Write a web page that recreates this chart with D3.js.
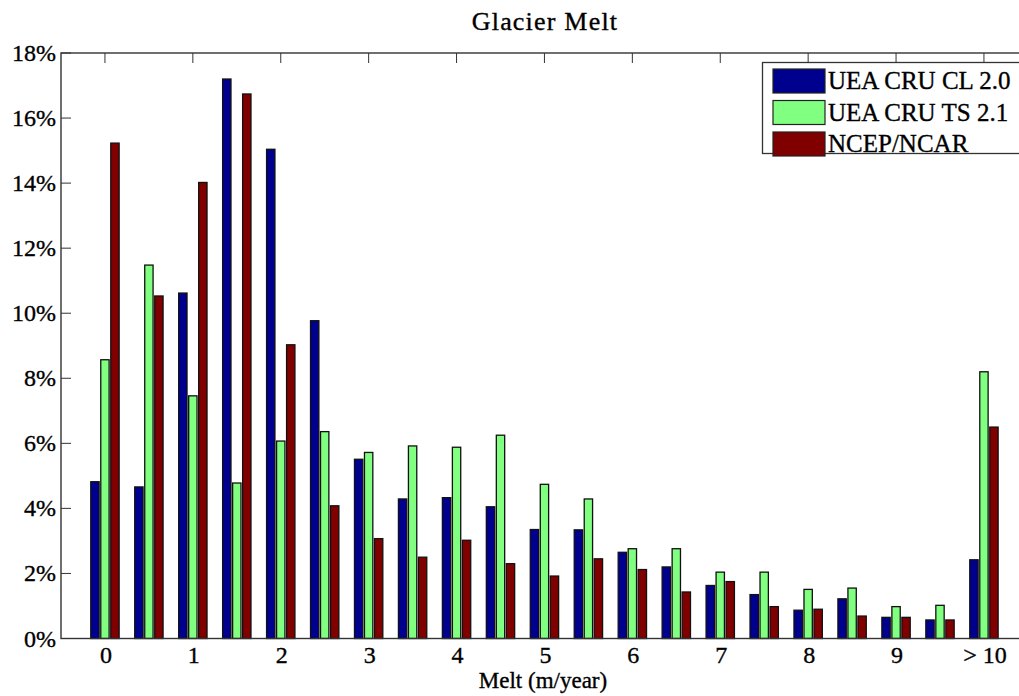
<!DOCTYPE html>
<html>
<head>
<meta charset="utf-8">
<script src="https://cdn.jsdelivr.net/npm/d3@7"></script>
<style>
  body { margin: 0; background: #fff; }
  text { font-family: "Liberation Serif", "Times New Roman", serif; fill: #000; stroke: #000; stroke-width: 0.35px; }
</style>
</head>
<body>
<svg></svg>
<script>
// SVG
var width = 1019;
var height = 696;

// Data (percent of glaciers per melt bin)
var bins = d3.range(21); // 0, 0.5, 1, ... 9.5, >10
var tickLabels = ["0", "1", "2", "3", "4", "5", "6", "7", "8", "9", "> 10"];
var seriesNames = ["UEA CRU CL 2.0", "UEA CRU TS 2.1", "NCEP/NCAR"];
var seriesColors = ["#00008f", "#80ff80", "#800000"];

var cruCL = [4.82, 4.66, 10.62, 17.2, 15.04, 9.77, 5.51, 4.29, 4.33, 4.05, 3.35,
             3.34, 2.65, 2.2, 1.63, 1.35, 0.87, 1.22, 0.65, 0.57, 2.42];
var cruTS = [8.57, 11.48, 7.46, 4.78, 6.07, 6.36, 5.72, 5.92, 5.88, 6.25, 4.74,
             4.29, 2.76, 2.76, 2.04, 2.04, 1.51, 1.55, 0.98, 1.02, 8.2];
var ncep  = [15.23, 10.53, 14.02, 16.74, 9.03, 4.08, 3.07, 2.5, 3.02, 2.3, 1.92,
             2.45, 2.12, 1.43, 1.75, 0.98, 0.9, 0.69, 0.65, 0.57, 6.5];
var series = [cruCL, cruTS, ncep];

// Axis setup
var plotLeft = 61, plotTop = 53, plotBottom = 638.5;
var groupStep = 43.95;

var xScale = d3.scaleLinear()
    .domain([-1, 21])
    .range([plotLeft, plotLeft + 22 * groupStep]);

var yScale = d3.scaleLinear()
    .domain([0, 18])
    .range([plotBottom, plotTop]);

var svg = d3.select("svg")
    .attr("width", width)
    .attr("height", height);

var plotRight = xScale(21);
var axisColor = "#333";

// ticks (inward, top and bottom, left side)
var g = svg.append("g");
d3.range(0, 21, 2).forEach(function(b) {
    var x = xScale(b);
    g.append("line").attr("x1", x).attr("x2", x).attr("y1", plotTop).attr("y2", plotTop + 10)
        .attr("stroke", axisColor);
    g.append("line").attr("x1", x).attr("x2", x).attr("y1", plotBottom).attr("y2", plotBottom - 10)
        .attr("stroke", axisColor);
});
d3.range(0, 19, 2).forEach(function(v) {
    var y = yScale(v);
    g.append("line").attr("x1", plotLeft).attr("x2", plotLeft + 10).attr("y1", y).attr("y2", y)
        .attr("stroke", axisColor);
});

// bars
var offsets = [-0.2275, 0, 0.2275];
var barW = 0.19 * groupStep;
series.forEach(function(vals, s) {
    svg.append("g").selectAll("rect")
        .data(vals)
        .join("rect")
        .attr("x", (d, i) => xScale(bins[i] + offsets[s]) - barW / 2)
        .attr("y", d => yScale(d))
        .attr("width", barW)
        .attr("height", d => yScale(0) - yScale(d))
        .attr("fill", seriesColors[s])
        .attr("stroke", "#111")
        .attr("stroke-width", 1.3);
});

// box
svg.append("rect")
    .attr("x", plotLeft).attr("y", plotTop)
    .attr("width", plotRight - plotLeft).attr("height", plotBottom - plotTop)
    .attr("fill", "none")
    .attr("stroke", axisColor)
    .attr("stroke-width", 1.4);

// tick labels
svg.append("g").selectAll("text")
    .data(d3.range(0, 19, 2))
    .join("text")
    .attr("x", 56)
    .attr("y", d => yScale(d) + 8)
    .attr("text-anchor", "end")
    .attr("font-size", 24)
    .text(d => d + "%");

svg.append("g").selectAll("text")
    .data(tickLabels)
    .join("text")
    .attr("x", (d, i) => xScale(i * 2) + 1)
    .attr("y", 663)
    .attr("text-anchor", "middle")
    .attr("font-size", 24)
    .text(d => d);

// title and axis label
svg.append("text")
    .attr("x", 545).attr("y", 30)
    .attr("text-anchor", "middle")
    .attr("font-size", 26)
    .attr("letter-spacing", 1.2)
    .text("Glacier Melt");

svg.append("text")
    .attr("x", 543).attr("y", 688)
    .attr("text-anchor", "middle")
    .attr("font-size", 23)
    .text("Melt (m/year)");

// legend
var legend = svg.append("g");
legend.append("rect")
    .attr("x", 762.5).attr("y", 62.5)
    .attr("width", 270).attr("height", 91)
    .attr("fill", "#fff")
    .attr("stroke", axisColor)
    .attr("stroke-width", 1.3);

seriesNames.forEach(function(name, s) {
    var yy = 69 + s * 31.5;
    legend.append("rect")
        .attr("x", 773).attr("y", yy)
        .attr("width", 52).attr("height", 24)
        .attr("fill", seriesColors[s])
        .attr("stroke", "#222")
        .attr("stroke-width", 1.2);
    legend.append("text")
        .attr("x", 828).attr("y", yy + 20)
        .attr("font-size", 25)
        .text(name);
});
</script>
</body>
</html>
